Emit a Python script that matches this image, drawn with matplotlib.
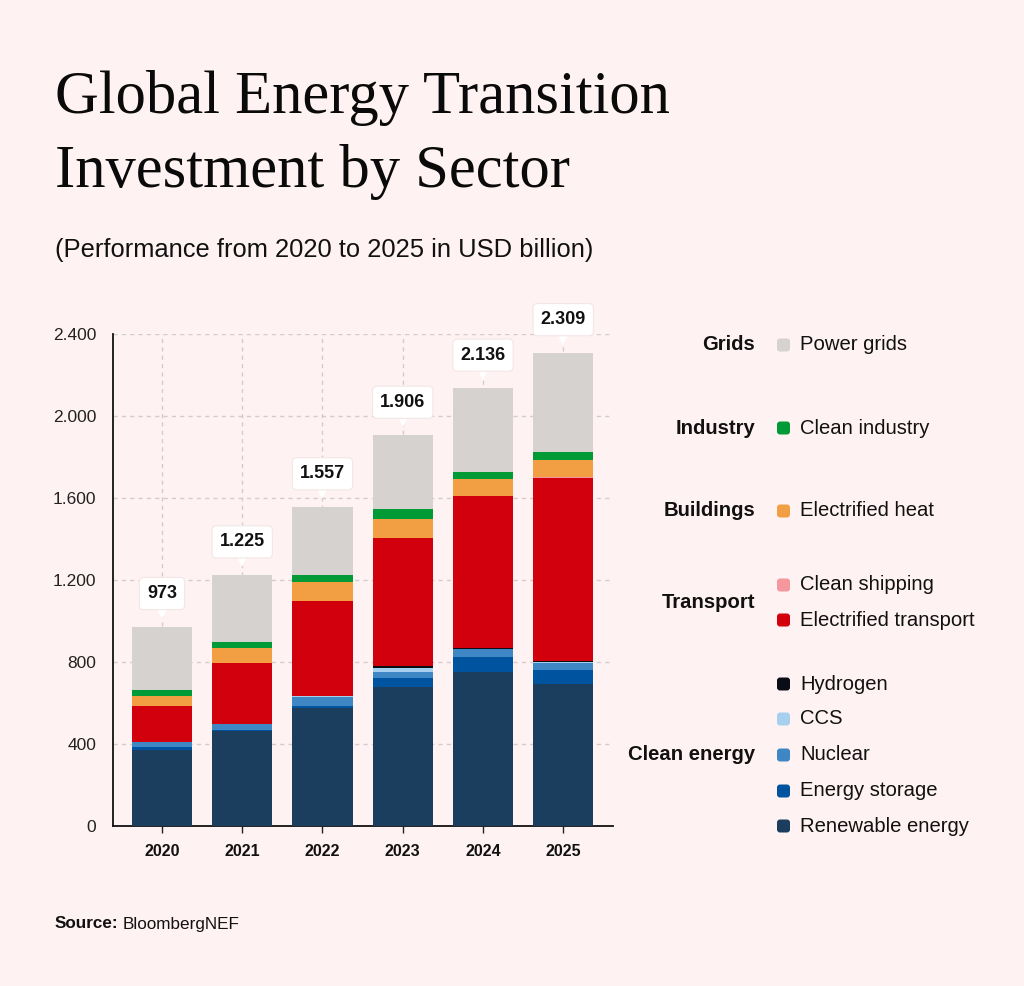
import numpy as np
import matplotlib.pyplot as plt
from matplotlib.patches import FancyBboxPatch
from matplotlib.transforms import offset_copy

W, H = 1024, 986
BG = "#fff2f2"

years = ["2020", "2021", "2022", "2023", "2024", "2025"]
totals = [973, 1225, 1557, 1906, 2136, 2309]

# stack order, bottom to top (USD billion)
renewable = [371, 463, 577, 678, 753, 694]
storage = [15, 5, 6, 45, 70, 67]
nuclear = [25, 31, 45, 30, 39, 32]
ccs = [1, 1, 7, 17, 1, 6]
hydrogen = [0, 0, 0, 10, 6, 6]
transport = [175, 293, 462, 623, 740, 894]
shipping = [0, 1, 1, 2, 2, 3]
heat = [49, 74, 94, 94, 83, 83]
industry = [26, 30, 31, 47, 31, 39]
grids = [311, 327, 334, 360, 411, 485]

series = [
    ("Renewable energy", renewable, "#1b3d5e"),
    ("Energy storage", storage, "#00539e"),
    ("Nuclear", nuclear, "#3f86c4"),
    ("CCS", ccs, "#a7d0ef"),
    ("Hydrogen", hydrogen, "#0a0d16"),
    ("Electrified transport", transport, "#d2000c"),
    ("Clean shipping", shipping, "#f5989d"),
    ("Electrified heat", heat, "#f29f44"),
    ("Clean industry", industry, "#009b36"),
    ("Power grids", grids, "#d6d2d0"),
]

# legend groups: (group label, [items top-down])
groups = [
    ("Grids", ["Power grids"]),
    ("Industry", ["Clean industry"]),
    ("Buildings", ["Electrified heat"]),
    ("Transport", ["Clean shipping", "Electrified transport"]),
    ("Clean energy", ["Hydrogen", "CCS", "Nuclear", "Energy storage", "Renewable energy"]),
]
yticks = [0, 400, 800, 1200, 1600, 2000, 2400]

plt.rcParams["font.family"] = ["Liberation Sans", "DejaVu Sans"]


def fx(x):
    return x / W


def fy(y):
    return 1 - y / H


fig = plt.figure(figsize=(W / 100, H / 100), dpi=100)
fig.patch.set_facecolor(BG)

ax = fig.add_axes([fx(113), fy(826), fx(500), (826 - 334) / H])
ax.set_facecolor(BG)

x = np.arange(len(years))
bottom = np.zeros(len(years))
for name, vals, col in series:
    ax.bar(x, vals, 0.75, bottom=bottom, color=col, edgecolor="none", zorder=3)
    bottom += np.array(vals)

ax.set_xlim(-0.61, 5.62)
ax.set_ylim(0, 2400)
ax.set_yticks(yticks)
ax.set_yticklabels([f"{v:,}".replace(",", ".") for v in yticks], fontsize=12.5, color="#222222")
ax.set_xticks(x)
ax.set_xticklabels(years, fontsize=11.5, fontweight="bold", color="#111111")
ax.tick_params(axis="y", length=0, pad=12)
ax.tick_params(axis="x", length=5, width=1, color="#222222", pad=8)
ax.grid(True, color="#d3cccc", linestyle=(0, (3, 3)), linewidth=1, zorder=0)
for s in ["top", "right"]:
    ax.spines[s].set_visible(False)
for s in ["left", "bottom"]:
    ax.spines[s].set_color("#111111")
    ax.spines[s].set_linewidth(1.3)

# total labels with pointer boxes
for xi, t in zip(x, totals):
    lab = f"{t:,}".replace(",", ".")
    tr = offset_copy(ax.transData, fig=fig, x=0, y=15, units="dots")
    ax.plot([xi], [t], marker="v", markersize=10, color="white", transform=tr,
            clip_on=False, zorder=5, markeredgewidth=0)
    ax.annotate(lab, (xi, t), xytext=(0, 33), textcoords="offset pixels",
                ha="center", va="center", fontsize=13, fontweight="bold",
                color="#111111", zorder=6, annotation_clip=False,
                bbox=dict(boxstyle="round,pad=0.42,rounding_size=0.25",
                          fc="white", ec="#f3e6e6", lw=0.8))

# titles
serif = ["Liberation Serif", "DejaVu Serif"]
fig.text(fx(55), fy(113), "Global Energy Transition", fontsize=43.7,
         family=serif, color="#0a0a0a", va="baseline")
fig.text(fx(55), fy(187), "Investment by Sector", fontsize=43.7,
         family=serif, color="#0a0a0a", va="baseline")
fig.text(fx(55), fy(250), "(Performance from 2020 to 2025 in USD billion)",
         fontsize=18.4, color="#111111", va="center")

# legend
colors = {name: col for name, _, col in series}
item_y = [345, 428, 511, 585, 620, 684, 719, 755, 791, 826]
k = 0
for gname, items in groups:
    ys = item_y[k:k + len(items)]
    gy = ys[0] if len(items) == 1 else (755 if gname == "Clean energy" else np.mean(ys))
    fig.text(fx(755), fy(gy), gname, fontsize=14.6, fontweight="bold",
             ha="right", va="center", color="#111111")
    for name, iy in zip(items, ys):
        fig.patches.append(FancyBboxPatch((fx(777), fy(iy + 6.5)), fx(13), 13 / H,
                                          boxstyle="round,pad=0,rounding_size=0.003",
                                          transform=fig.transFigure, fc=colors[name],
                                          ec="none", figure=fig))
        fig.text(fx(800), fy(iy), name, fontsize=14.6, ha="left", va="center",
                 color="#111111")
    k += len(items)

# source
src = fig.text(fx(55), fy(924), "Source:", fontsize=12.3, fontweight="bold",
               va="center", color="#111111")
fig.canvas.draw()
bb = src.get_window_extent()
fig.text(bb.x1 / W + 4 / W, fy(924), "BloombergNEF", fontsize=12.3, va="center",
         color="#111111")

fig.savefig("out.png", dpi=100, facecolor=BG)
